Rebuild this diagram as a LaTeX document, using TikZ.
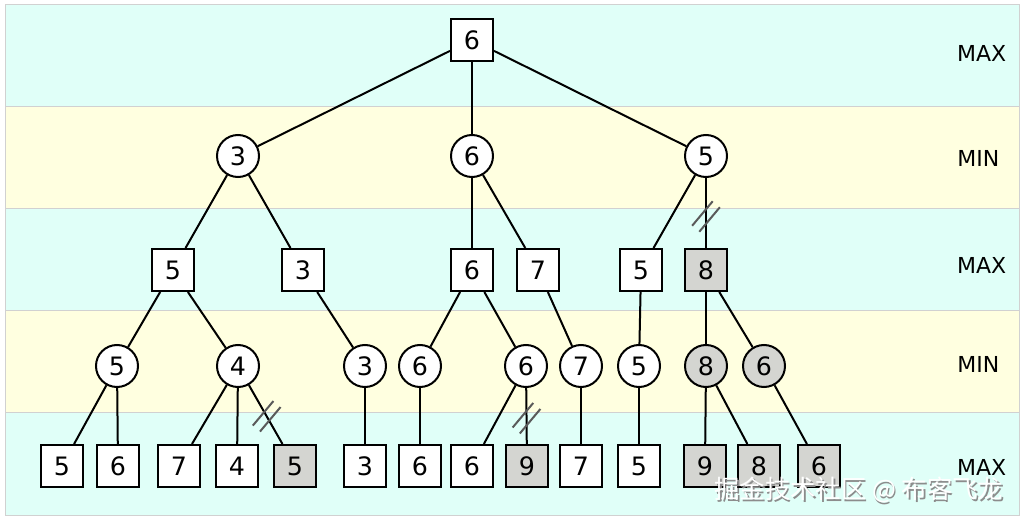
\documentclass[tikz,border=0pt]{standalone}
\usepackage{fontspec}
\setmainfont{DejaVu Sans}
\newfontfamily\cjkfont{Noto Sans CJK SC}
\definecolor{bandcyan}{RGB}{224,255,248}
\definecolor{bandyellow}{RGB}{255,255,224}
\definecolor{prunedgray}{RGB}{212,213,209}
\definecolor{cutgray}{RGB}{90,90,90}
\begin{document}
\begin{tikzpicture}[
    x=0.75pt, y=-0.75pt,
    every node/.style={font=\fontsize{19}{21}\selectfont},
    maxnode/.style={draw, line width=1.5pt, fill=white, minimum size=31.5pt, inner sep=0pt},
    minnode/.style={draw, circle, line width=1.5pt, fill=white, minimum size=31.5pt, inner sep=0pt},
    pruned/.style={fill=prunedgray},
    edge/.style={line width=1.5pt},
    band/.style={draw=black!18, line width=0.5pt},
    lvl/.style={anchor=east, font=\fontsize{16.5}{18}\selectfont},
    wm/.style={anchor=east, font=\cjkfont\fontsize{19}{21}\selectfont},
    cutmark/.pic={\draw[cutgray, line width=1.5pt] (-12pt,3.5pt) -- (12pt,3.5pt) (-12pt,-3.5pt) -- (12pt,-3.5pt);},
]
\useasboundingbox (0,0) rectangle (1024,520);
\foreach \i/\c in {0/bandcyan,1/bandyellow,2/bandcyan,3/bandyellow,4/bandcyan}
  \path[band, fill=\c] (5,{4+102.2*\i}) rectangle (1019,{4+102.2*(\i+1)});
% level labels
\node[lvl] (t0) at (1011,53) {MAX};
\node[lvl] (t1) at (1004,158) {MIN};
\node[lvl] (t2) at (1011,265) {MAX};
\node[lvl] (t3) at (1004,364) {MIN};
\node[lvl] (t4) at (1011,467) {MAX};
% tree
\node[maxnode] (m0) at (472,40) {6};
\node[minnode] (n1) at (238,156) {3};
\node[minnode] (n2) at (472,156) {6};
\node[minnode] (n3) at (706,156) {5};
\node[maxnode] (p1) at (173,270) {5};
\node[maxnode] (p2) at (303,270) {3};
\node[maxnode] (p3) at (472,270) {6};
\node[maxnode] (p4) at (538,270) {7};
\node[maxnode] (p5) at (641,270) {5};
\node[maxnode, pruned] (p6) at (706,270) {8};
\node[minnode] (q1) at (117,366) {5};
\node[minnode] (q2) at (238,366) {4};
\node[minnode] (q3) at (365,366) {3};
\node[minnode] (q4) at (420,366) {6};
\node[minnode] (q5) at (526,366) {6};
\node[minnode] (q6) at (581,366) {7};
\node[minnode] (q7) at (639,366) {5};
\node[minnode, pruned] (q8) at (706,366) {8};
\node[minnode, pruned] (q9) at (764,366) {6};
\node[maxnode] (l1) at (62,466) {5};
\node[maxnode] (l2) at (118,466) {6};
\node[maxnode] (l3) at (179,466) {7};
\node[maxnode] (l4) at (237,466) {4};
\node[maxnode, pruned] (l5) at (295,466) {5};
\node[maxnode] (l6) at (365,466) {3};
\node[maxnode] (l7) at (420,466) {6};
\node[maxnode] (l8) at (472,466) {6};
\node[maxnode, pruned] (l9) at (527,466) {9};
\node[maxnode] (l10) at (581,466) {7};
\node[maxnode] (l11) at (639,466) {5};
\node[maxnode, pruned] (l12) at (705,466) {9};
\node[maxnode, pruned] (l13) at (759,466) {8};
\node[maxnode, pruned] (l14) at (819,466) {6};
\draw[edge] (m0) -- (n1);
\draw[edge] (m0) -- (n2);
\draw[edge] (m0) -- (n3);
\draw[edge] (n1) -- (p1);
\draw[edge] (n1) -- (p2);
\draw[edge] (n2) -- (p3);
\draw[edge] (n2) -- (p4);
\draw[edge] (n3) -- (p5);
\draw[edge] (n3) -- pic[pos=0.55, rotate=50]{cutmark} (p6);
\draw[edge] (p1) -- (q1);
\draw[edge] (p1) -- (q2);
\draw[edge] (p2) -- (q3);
\draw[edge] (p3) -- (q4);
\draw[edge] (p3) -- (q5);
\draw[edge] (p4) -- (q6);
\draw[edge] (p5) -- (q7);
\draw[edge] (p6) -- (q8);
\draw[edge] (p6) -- (q9);
\draw[edge] (q1) -- (l1);
\draw[edge] (q1) -- (l2);
\draw[edge] (q2) -- (l3);
\draw[edge] (q2) -- (l4);
\draw[edge] (q2) -- pic[pos=0.53, rotate=50]{cutmark} (l5);
\draw[edge] (q3) -- (l6);
\draw[edge] (q4) -- (l7);
\draw[edge] (q5) -- (l8);
\draw[edge] (q5) -- pic[pos=0.54, rotate=50]{cutmark} (l9);
\draw[edge] (q6) -- (l10);
\draw[edge] (q7) -- (l11);
\draw[edge] (q8) -- (l12);
\draw[edge] (q8) -- (l13);
\draw[edge] (q9) -- (l14);
% watermark
\node[wm, text=black!45] (wms) at (1009.5,491.5) {掘金技术社区 @ 布客飞龙};
\node[wm, text=white] (wmt) at (1008,490) {掘金技术社区 @ 布客飞龙};
\end{tikzpicture}
\end{document}
